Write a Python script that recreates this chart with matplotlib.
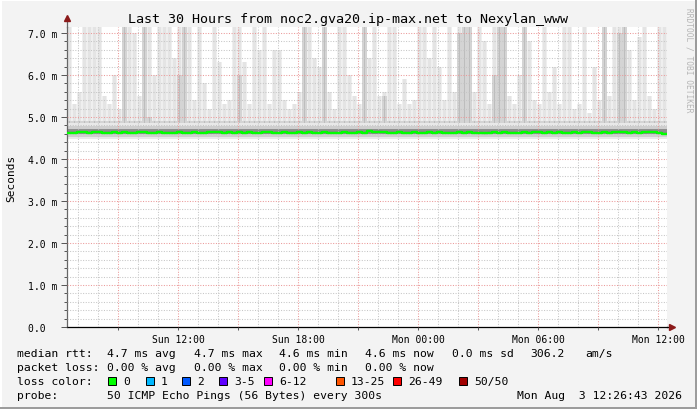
import numpy as np
import pandas as pd
import matplotlib
matplotlib.use("Agg")
import matplotlib.pyplot as plt
import matplotlib.dates as mdates
from matplotlib.ticker import MultipleLocator, FuncFormatter
from matplotlib.patches import Rectangle

plt.rcParams['font.family'] = ['DejaVu Sans Mono']

# 30 hours, 120 columns of 15 min each
start = pd.Timestamp("2026-08-02 06:26:43")
end = start + pd.Timedelta(hours=30)

# median rtt per column (ms)
median = [4.63, 4.62, 4.64, 4.64, 4.63, 4.65, 4.64, 4.62, 4.63, 4.64,
          4.63, 4.64, 4.62, 4.63, 4.64, 4.64, 4.62, 4.63, 4.64, 4.63,
          4.62, 4.63, 4.65, 4.63, 4.62, 4.64, 4.63, 4.62, 4.64, 4.65,
          4.64, 4.63, 4.64, 4.63, 4.65, 4.63, 4.64, 4.63, 4.62, 4.64,
          4.64, 4.63, 4.62, 4.64, 4.63, 4.62, 4.64, 4.63, 4.64, 4.62,
          4.63, 4.64, 4.63, 4.62, 4.63, 4.64, 4.63, 4.62, 4.64, 4.63,
          4.66, 4.64, 4.65, 4.64, 4.63, 4.62, 4.64, 4.63, 4.62, 4.64,
          4.63, 4.62, 4.64, 4.63, 4.64, 4.62, 4.63, 4.63, 4.64, 4.63,
          4.64, 4.63, 4.62, 4.61, 4.63, 4.64, 4.63, 4.64, 4.63, 4.62,
          4.63, 4.64, 4.63, 4.65, 4.64, 4.63, 4.64, 4.63, 4.64, 4.63,
          4.63, 4.64, 4.63, 4.65, 4.64, 4.63, 4.62, 4.64, 4.63, 4.64,
          4.65, 4.64, 4.63, 4.64, 4.63, 4.64, 4.65, 4.64, 4.63, 4.60]

# top of the light smoke (ms), 9 = beyond the top of the chart
smoke_hi = [9.0, 5.3, 5.6, 9.0, 9.0, 9.0, 9.0, 5.5, 5.3, 6.0,
            5.2, 9.0, 9.0, 7.0, 5.5, 9.0, 9.0, 6.0, 9.0, 9.0,
            9.0, 6.4, 9.0, 9.0, 9.0, 5.4, 9.0, 5.8, 5.2, 9.0,
            6.3, 5.3, 5.4, 9.0, 9.0, 6.3, 5.3, 9.0, 6.6, 9.0,
            5.3, 6.6, 6.6, 5.4, 5.2, 5.3, 5.6, 9.0, 9.0, 6.4,
            6.2, 9.0, 5.6, 5.2, 9.0, 9.0, 6.0, 5.5, 5.3, 9.0,
            6.4, 9.0, 5.5, 5.6, 9.0, 9.0, 5.3, 5.9, 5.3, 5.4,
            9.0, 9.0, 6.4, 9.0, 6.2, 5.4, 9.0, 5.6, 9.0, 9.0,
            9.0, 5.6, 9.0, 6.8, 5.3, 9.0, 9.0, 9.0, 5.5, 5.3,
            6.0, 9.0, 6.8, 5.4, 5.3, 9.0, 5.6, 6.2, 5.3, 9.0,
            9.0, 5.2, 5.3, 9.0, 5.1, 6.2, 5.4, 9.0, 5.5, 9.0,
            9.0, 9.0, 6.6, 5.4, 6.9, 9.0, 5.5, 5.2, 9.0, 9.0]

# top of the darker smoke (ms)
smoke_mid = [4.9, 4.9, 4.9, 4.9, 4.9, 4.9, 4.9, 4.9, 4.9, 4.9,
             4.9, 9.0, 4.9, 4.9, 4.9, 9.0, 5.0, 4.9, 4.9, 4.9,
             4.9, 4.9, 6.0, 9.0, 4.9, 4.9, 4.9, 4.9, 4.9, 4.9,
             4.9, 4.9, 4.9, 4.9, 6.0, 4.9, 4.9, 4.9, 4.9, 4.9,
             4.9, 4.9, 4.9, 4.9, 4.9, 4.9, 4.9, 9.0, 4.9, 4.9,
             4.9, 9.0, 4.9, 4.9, 4.9, 4.9, 4.9, 4.9, 4.9, 9.0,
             4.9, 4.9, 4.9, 5.5, 4.9, 4.9, 4.9, 4.9, 4.9, 4.9,
             4.9, 4.9, 4.9, 4.9, 4.9, 4.9, 4.9, 4.9, 7.0, 9.0,
             9.0, 4.9, 4.9, 4.9, 4.9, 6.0, 9.0, 9.0, 4.9, 4.9,
             4.9, 9.0, 4.9, 4.9, 4.9, 4.9, 4.9, 4.9, 4.9, 4.9,
             4.9, 4.9, 4.9, 4.9, 4.9, 4.9, 4.9, 9.0, 4.9, 4.9,
             7.0, 9.0, 4.9, 4.9, 4.9, 4.9, 4.9, 4.9, 4.9, 4.9]

loss_labels = ["0", "1", "2", "3-5", "6-12", "13-25", "26-49", "50/50"]
loss_colors = ["#00ff00", "#00b8ff", "#0059ff", "#5e00ff",
               "#ff00ff", "#ff5500", "#ff0000", "#a10000"]
loss_box_x = [108, 146, 182, 219, 264, 336, 393, 459]

rtt_items = ["4.7 ms avg", "4.7 ms max", "4.6 ms min", "4.6 ms now",
             "0.0 ms sd", "306.2", "am/s"]
rtt_x = [107, 194, 279, 365, 452, 530, 585]
loss_items = ["0.00 % avg", "0.00 % max", "0.00 % min", "0.00 % now"]
loss_x = [107, 194, 279, 365]

W, H = 697, 410
bg = "#f3f3f3"

fig = plt.figure(figsize=(W / 100, H / 100), dpi=100, facecolor=bg)
ax = fig.add_axes([67 / W, 82 / H, 600 / W, 300 / H])
ax.set_facecolor("white")

edges = mdates.date2num(pd.date_range(start, end, periods=len(median) + 1).to_pydatetime())
step = edges[1] - edges[0]
centers = edges[:-1] + step / 2
hi = np.array(smoke_hi)
mid = np.array(smoke_mid)
n = len(edges)


def stepped(vals):
    vals = np.asarray(vals, dtype=float)
    return np.append(vals, vals[-1])


# smoke: tall light wisps, darker wisps, then the band around the median
ax.bar(centers, hi - 4.8, bottom=4.8, width=step * 0.95, color="#efefef", lw=0, zorder=1)
ax.bar(centers, hi - 4.8, bottom=4.8, width=step * 0.45, color="#e4e4e4", lw=0, zorder=1.05)
ax.bar(centers, mid - 4.8, bottom=4.8, width=step * 0.85, color="#d4d4d4", lw=0, zorder=1.1)
ax.bar(centers, mid - 4.8, bottom=4.8, width=step * 0.35, color="#bdbdbd", lw=0, zorder=1.15)
ax.fill_between(edges, np.full(n, 4.47), np.full(n, 4.86), step="post", color="#e9e9e9", lw=0, zorder=1.2)
ax.fill_between(edges, np.full(n, 4.53), np.full(n, 4.79), step="post", color="#cfcfcf", lw=0, zorder=1.3)
ax.fill_between(edges, np.full(n, 4.59), np.full(n, 4.71), step="post", color="#8e8e8e", lw=0, zorder=1.4)

ax.step(edges, stepped(median) + 0.014, where="post", color="#222222", lw=0.8, zorder=3)
ax.step(edges, stepped(median), where="post", color="#00ff00", lw=1.7, zorder=3.1)

ax.set_xlim(edges[0], edges[-1])
ax.set_ylim(0, 300 / 42)

ax.yaxis.set_major_locator(MultipleLocator(1))
ax.yaxis.set_minor_locator(MultipleLocator(0.2))
ax.yaxis.set_major_formatter(FuncFormatter(lambda v, p: "0.0  " if v == 0 else f"{v:.1f} m"))

ax.xaxis.set_major_locator(mdates.HourLocator(byhour=range(0, 24, 3)))
ax.xaxis.set_minor_locator(mdates.HourLocator())


def xfmt(v, p):
    d = mdates.num2date(v)
    return d.strftime("%a %H:%M") if d.hour % 6 == 0 else ""


ax.xaxis.set_major_formatter(FuncFormatter(xfmt))

ax.set_axisbelow(False)
ax.grid(which="major", color="#eb9a9a", ls=(0, (1, 1.5)), lw=0.75)
ax.grid(which="minor", color="#c6c6c6", ls=(0, (1, 1.5)), lw=0.75)

ax.tick_params(which="both", labelsize=7, width=0.7, color="#555555", pad=3)
ax.tick_params(axis="x", which="major", length=2)
ax.tick_params(axis="x", which="minor", length=0)
ax.tick_params(axis="y", which="major", length=4)
ax.tick_params(axis="y", which="minor", length=2)

for s in ["top", "right"]:
    ax.spines[s].set_visible(False)
ax.spines["left"].set_color("#666666")
ax.spines["bottom"].set_color("#000000")
ax.spines["left"].set_linewidth(0.9)
ax.spines["bottom"].set_linewidth(0.9)

# axis arrows
ax.plot([0, 0], [1, 1.02], transform=ax.transAxes, color="#666666", lw=0.9, clip_on=False)
ax.plot([0], [1.03], marker="^", ms=4, color="#8b1a1a", transform=ax.transAxes, clip_on=False)
ax.plot([1, 1.006], [0, 0], transform=ax.transAxes, color="#000000", lw=0.9, clip_on=False)
ax.plot([1.008], [0], marker=">", ms=4, color="#8b1a1a", transform=ax.transAxes, clip_on=False)

fig.text(348 / W, 1 - 19 / H, "Last 30 Hours from noc2.gva20.ip-max.net to Nexylan_www",
         ha="center", va="center", fontsize=9.6)
fig.text(11 / W, 1 - 178 / H, "Seconds", rotation=90, ha="center", va="center", fontsize=8)
fig.text(689 / W, 1 - 60 / H, "RRDTOOL / TOBI OETIKER", rotation=270,
         ha="center", va="center", fontsize=5.7, color="#b5b5b5")

fs = 8.2
row_y = [354, 368, 382, 396]
fig.text(17 / W, 1 - row_y[0] / H, "median rtt:", va="center", fontsize=fs)
for t, x in zip(rtt_items, rtt_x):
    fig.text(x / W, 1 - row_y[0] / H, t, va="center", fontsize=fs)
fig.text(17 / W, 1 - row_y[1] / H, "packet loss:", va="center", fontsize=fs)
for t, x in zip(loss_items, loss_x):
    fig.text(x / W, 1 - row_y[1] / H, t, va="center", fontsize=fs)
fig.text(17 / W, 1 - row_y[2] / H, "loss color:", va="center", fontsize=fs)
for lab, col, x in zip(loss_labels, loss_colors, loss_box_x):
    fig.patches.append(Rectangle((x / W, 1 - (row_y[2] + 4) / H), 8 / W, 8 / H,
                                 transform=fig.transFigure, facecolor=col,
                                 edgecolor="black", lw=0.7))
    fig.text((x + 15) / W, 1 - row_y[2] / H, lab, va="center", fontsize=fs)
fig.text(17 / W, 1 - row_y[3] / H, "probe:", va="center", fontsize=fs)
fig.text(107 / W, 1 - row_y[3] / H, "50 ICMP Echo Pings (56 Bytes) every 300s", va="center", fontsize=fs)
fig.text(682 / W, 1 - row_y[3] / H, "Mon Aug  3 12:26:43 2026", ha="right", va="center", fontsize=fs)

# image border: light top/left, dark bottom/right
fig.patches.append(Rectangle((0, 1 - 2 / H), 1, 2 / H, transform=fig.transFigure, color="#ffffff", lw=0))
fig.patches.append(Rectangle((0, 0), 2 / W, 1, transform=fig.transFigure, color="#ffffff", lw=0))
fig.patches.append(Rectangle((0, 0), 1, 2 / H, transform=fig.transFigure, color="#9c9c9c", lw=0))
fig.patches.append(Rectangle((1 - 2 / W, 0), 2 / W, 1, transform=fig.transFigure, color="#9c9c9c", lw=0))

fig.savefig("out.png", dpi=100, facecolor=bg)
